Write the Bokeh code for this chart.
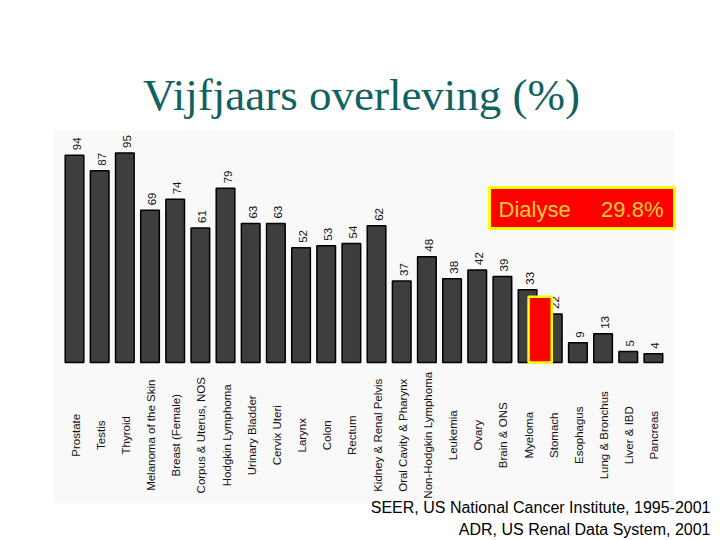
import math
from bokeh.plotting import figure
from bokeh.models import ColumnDataSource, Range1d, Label, BoxAnnotation
from bokeh.embed import file_html
from bokeh.resources import INLINE
from bokeh.core.properties import value

# ---- data -------------------------------------------------------------
categories = ["Prostate", "Testis", "Thyroid", "Melanoma of the Skin", "Breast (Female)",
              "Corpus & Uterus, NOS", "Hodgkin Lymphoma", "Urinary Bladder", "Cervix Uteri",
              "Larynx", "Colon", "Rectum", "Kidney & Renal Pelvis", "Oral Cavity & Pharynx",
              "Non-Hodgkin Lymphoma", "Leukemia", "Ovary", "Brain & ONS", "Myeloma", "Stomach",
              "Esophagus", "Lung & Bronchus", "Liver & IBD", "Pancreas"]
survival = [94, 87, 95, 69, 74, 61, 79, 63, 63, 52, 53, 54, 62, 37,
            48, 38, 42, 39, 33, 22, 9, 13, 5, 4]
dialysis_label = "Dialyse"
dialysis_value = 29.8
dialysis_after = "Myeloma"
title_text = "Vijfjaars overleving (%)"
source_lines = ["SEER, US National Cancer Institute, 1995-2001",
                "ADR, US Renal Data System, 2001"]

# ---- figure -----------------------------------------------------------
W, H = 720, 540
p = figure(width=W, height=H, output_backend="svg", toolbar_location=None,
           x_axis_type=None, y_axis_type=None, min_border=0,
           x_range=Range1d(-2.940, 25.665), y_range=Range1d(-80.73, 164.17))
p.outline_line_color = None
p.grid.visible = False
p.background_fill_color = "white"
p.border_fill_color = "white"

# light panel behind the chart picture
p.add_layout(BoxAnnotation(left=53, right=673, bottom=38, top=410,
                           left_units="screen", right_units="screen",
                           top_units="screen", bottom_units="screen",
                           fill_color="#f9f9f9", fill_alpha=1.0, line_color=None,
                           level="underlay"))

xs = list(range(len(categories)))
src = ColumnDataSource(dict(x=xs, v=survival, cat=categories,
                            lab=[str(v) for v in survival],
                            ly=[-33.0] * len(categories)))

p.vbar(x="x", top="v", bottom=0, width=0.74, source=src,
       fill_color="#3e3e3e", line_color="#000000", line_width=1.5)

p.text(x="x", y="v", text="lab", source=src, angle=math.pi / 2,
       text_align="left", text_baseline="middle", x_offset=2, y_offset=-5,
       text_font=value("Liberation Sans"), text_font_size="11.5px",
       text_color="#111111")

p.text(x="x", y="ly", text="cat", source=src, angle=math.pi / 2,
       text_align="center", text_baseline="middle", x_offset=1,
       text_font=value("Liberation Sans"), text_font_size="11.5px",
       text_color="#111111")

# dialysis bar, between Myeloma and Stomach
dx = categories.index(dialysis_after) + 0.5
dsrc = ColumnDataSource(dict(x=[dx], v=[dialysis_value]))
p.vbar(x="x", top="v", bottom=0, width=0.92, source=dsrc,
       fill_color="#ff0000", line_color="#ffff00", line_width=2.5)

# dialysis call-out box
p.add_layout(BoxAnnotation(left=489, right=674, bottom=312, top=353,
                           left_units="screen", right_units="screen",
                           top_units="screen", bottom_units="screen",
                           fill_color="#ff0000", fill_alpha=1.0,
                           line_color="#ffff00", line_width=3, line_alpha=1.0))
p.add_layout(Label(x=498, y=331, x_units="screen", y_units="screen",
                   text=dialysis_label, text_align="left", text_baseline="alphabetic",
                   text_font="Liberation Sans", text_font_size="22px",
                   text_color="#ffcc33"))
p.add_layout(Label(x=663, y=331, x_units="screen", y_units="screen",
                   text=f"{dialysis_value}%", text_align="right", text_baseline="alphabetic",
                   text_font="Liberation Sans", text_font_size="22px",
                   text_color="#ffcc33"))

# title
p.add_layout(Label(x=361, y=446, x_units="screen", y_units="screen",
                   text=title_text, text_align="center", text_baseline="alphabetic",
                   text_font="Liberation Serif", text_font_size="45px",
                   text_color="#106262"))

# sources
for line, yy in zip(source_lines, [33, 11]):
    p.add_layout(Label(x=710, y=yy, x_units="screen", y_units="screen",
                       text=line, text_align="right", text_baseline="alphabetic",
                       text_font="Liberation Sans", text_font_size="16px",
                       text_color="#000000"))

open("out.html", "w").write(file_html(p, INLINE))
